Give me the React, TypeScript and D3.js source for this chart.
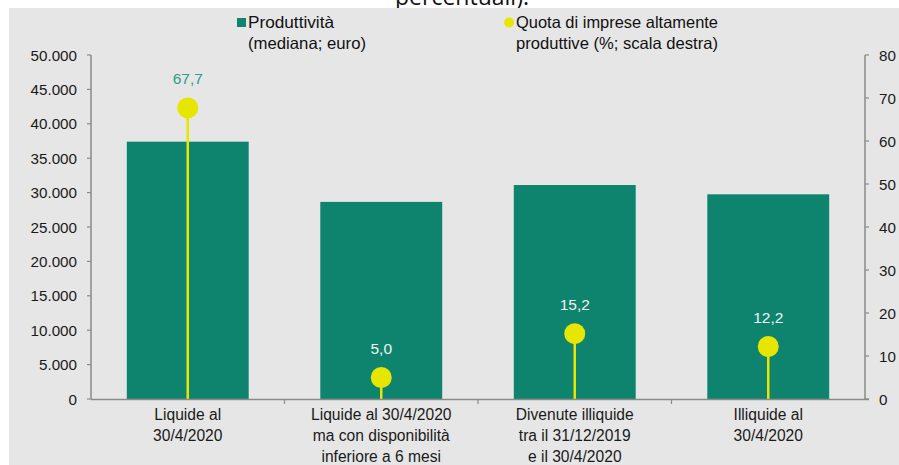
import React from "react";
import * as d3 from "d3";

const categories = [
  ["Liquide al", "30/4/2020"],
  ["Liquide al 30/4/2020", "ma con disponibilità", "inferiore a 6 mesi"],
  ["Divenute illiquide", "tra il 31/12/2019", "e il 30/4/2020"],
  ["Illiquide al", "30/4/2020"],
];
const productivity = [37400, 28650, 31100, 29750];
const shareHighProd = [67.7, 5.0, 15.2, 12.2];
const leftTicks = [0, 5000, 10000, 15000, 20000, 25000, 30000, 35000, 40000, 45000, 50000];
const rightTicks = [0, 10, 20, 30, 40, 50, 60, 70, 80];
const legendLabels = [
  ["Produttività", "(mediana; euro)"],
  ["Quota di imprese altamente", "produttive (%; scala destra)"],
];

const W = 899;
const H = 465;
const left = 91;
const right = 865;
const top = 55;
const bottom = 399;
const BAR = "#0e846f";
const YEL = "#e6e600";
const AXIS = "#8a8a8a";
const FONT = "'Liberation Sans', Arial, sans-serif";

export default function App() {
  const idx = categories.map((_, i) => String(i));
  const x = d3.scaleBand<string>().domain(idx).range([left, right]).paddingInner(0.37).paddingOuter(0.185);
  const xCenter = d3.scaleBand<string>().domain(idx).range([left, right]).padding(0);
  const yL = d3.scaleLinear().domain([0, 50000]).range([bottom, top]);
  const yR = d3.scaleLinear().domain([0, 80]).range([bottom, top]);
  const fmtL = (v: number) => d3.format(",")(v).replace(/,/g, ".");
  const fmtR = (v: number) => v.toFixed(1).replace(".", ",");
  const legendWidths = [[86, 118], [202, 202]];

  return (
    <svg width={W} height={H} style={{ position: "absolute", left: 0, top: 0 }}>
      <rect x={0} y={0} width={W} height={H} fill="#ffffff" />
      <text x={462} y={5} textAnchor="middle" fontFamily="'Open Sans', 'Liberation Sans', sans-serif" fontSize={23} fill="#111">
        percentuali).
      </text>
      <rect x={9} y={8} width={W - 9} height={H - 8} fill="#e6e6e6" />

      {/* legend */}
      <rect x={237} y={18} width={9} height={9} fill={BAR} />
      <text fontFamily={FONT} fontSize={16.5} fill="#111">
        <tspan x={248} y={28} textLength={legendWidths[0][0]} lengthAdjust="spacingAndGlyphs">{legendLabels[0][0]}</tspan>
      </text>
      <text fontFamily={FONT} fontSize={16.5} fill="#111">
        <tspan x={248} y={49} textLength={legendWidths[0][1]} lengthAdjust="spacingAndGlyphs">{legendLabels[0][1]}</tspan>
      </text>
      <circle cx={509} cy={22.5} r={5} fill={YEL} />
      <text fontFamily={FONT} fontSize={16.5} fill="#111">
        <tspan x={516} y={28} textLength={legendWidths[1][0]} lengthAdjust="spacingAndGlyphs">{legendLabels[1][0]}</tspan>
      </text>
      <text fontFamily={FONT} fontSize={16.5} fill="#111">
        <tspan x={516} y={49} textLength={legendWidths[1][1]} lengthAdjust="spacingAndGlyphs">{legendLabels[1][1]}</tspan>
      </text>

      {/* bars */}
      {productivity.map((v, i) => (
        <rect key={"b" + i} x={x(String(i))} y={yL(v)} width={x.bandwidth()} height={bottom - yL(v)} fill={BAR} />
      ))}

      {/* lollipops */}
      {shareHighProd.map((v, i) => {
        const cx = xCenter(String(i))! + xCenter.bandwidth() / 2;
        return (
          <g key={"l" + i}>
            <line x1={cx} x2={cx} y1={bottom} y2={yR(v)} stroke={YEL} strokeWidth={2.5} />
            <circle cx={cx} cy={yR(v)} r={10.5} fill={YEL} />
            <text x={cx} y={yR(v) - 24} textAnchor="middle" fontFamily={FONT} fontSize={15.5}
              fill={yR(v) - 30 < yL(productivity[i]) ? "#2f9a87" : "#f2f2f2"}>
              {fmtR(v)}
            </text>
          </g>
        );
      })}

      {/* left axis */}
      <line x1={left} x2={left} y1={top} y2={bottom} stroke={AXIS} strokeWidth={1.5} />
      {leftTicks.map((t) => (
        <g key={"lt" + t}>
          <line x1={left - 4} x2={left} y1={yL(t)} y2={yL(t)} stroke={AXIS} strokeWidth={1.2} />
          <text x={77} y={yL(t) + 5.5} textAnchor="end" fontFamily={FONT} fontSize={15.2} fill="#1a1a1a">
            {fmtL(t)}
          </text>
        </g>
      ))}

      {/* right axis */}
      <line x1={right} x2={right} y1={top} y2={bottom} stroke={AXIS} strokeWidth={1.5} />
      {rightTicks.map((t) => (
        <g key={"rt" + t}>
          <line x1={right} x2={right + 4} y1={yR(t)} y2={yR(t)} stroke={AXIS} strokeWidth={1.2} />
          <text x={879} y={yR(t) + 5.5} textAnchor="start" fontFamily={FONT} fontSize={15.2} fill="#1a1a1a">
            {t}
          </text>
        </g>
      ))}

      {/* bottom axis */}
      <line x1={left} x2={right + 4} y1={bottom + 0.5} y2={bottom + 0.5} stroke={AXIS} strokeWidth={1.5} />
      {idx.slice(1).map((k) => (
        <line key={"xt" + k} x1={xCenter(k)} x2={xCenter(k)} y1={bottom} y2={bottom + 5} stroke={AXIS} strokeWidth={1.2} />
      ))}
      {categories.map((lines, i) => {
        const cx = xCenter(String(i))! + xCenter.bandwidth() / 2;
        return (
          <text key={"c" + i} textAnchor="middle" fontFamily={FONT} fontSize={15.6} fill="#1a1a1a">
            {lines.map((ln, j) => (
              <tspan key={j} x={cx} y={420 + j * 21}>{ln}</tspan>
            ))}
          </text>
        );
      })}
    </svg>
  );
}
